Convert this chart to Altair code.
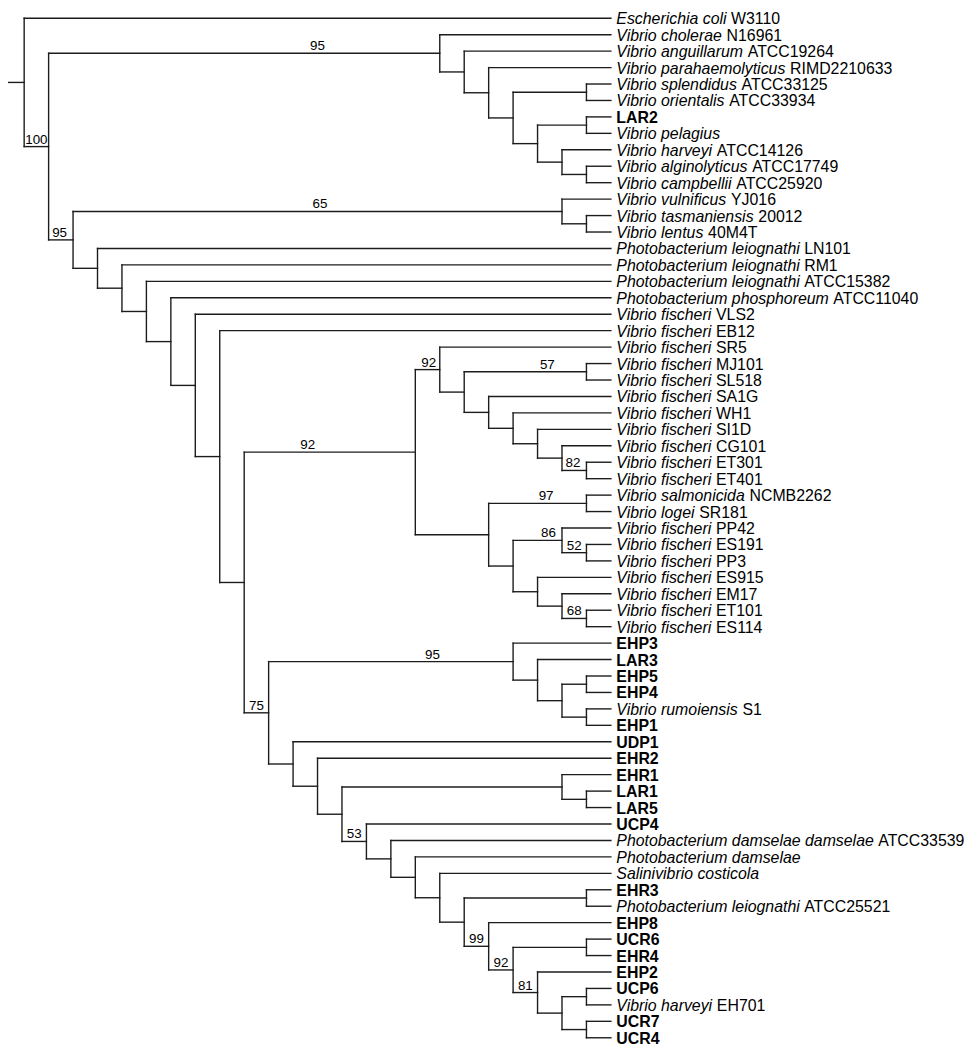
import altair as alt
import pandas as pd

# ---------------- data ----------------
LEAF_SPECIES = [
    "Escherichia coli", "Vibrio cholerae", "Vibrio anguillarum", "Vibrio parahaemolyticus",
    "Vibrio splendidus", "Vibrio orientalis", "", "Vibrio pelagius",
    "Vibrio harveyi", "Vibrio alginolyticus", "Vibrio campbellii",
    "Vibrio vulnificus", "Vibrio tasmaniensis", "Vibrio lentus",
    "Photobacterium leiognathi", "Photobacterium leiognathi", "Photobacterium leiognathi",
    "Photobacterium phosphoreum", "Vibrio fischeri", "Vibrio fischeri",
    "Vibrio fischeri", "Vibrio fischeri", "Vibrio fischeri", "Vibrio fischeri",
    "Vibrio fischeri", "Vibrio fischeri", "Vibrio fischeri", "Vibrio fischeri", "Vibrio fischeri",
    "Vibrio salmonicida", "Vibrio logei", "Vibrio fischeri", "Vibrio fischeri", "Vibrio fischeri",
    "Vibrio fischeri", "Vibrio fischeri", "Vibrio fischeri", "Vibrio fischeri",
    "", "", "", "", "Vibrio rumoiensis", "",
    "", "", "", "", "", "",
    "Photobacterium damselae damselae", "Photobacterium damselae", "Salinivibrio costicola",
    "", "Photobacterium leiognathi", "", "", "", "", "", "Vibrio harveyi", "", "",
]
LEAF_STRAIN = [
    "W3110", "N16961", "ATCC19264", "RIMD2210633",
    "ATCC33125", "ATCC33934", "LAR2", "",
    "ATCC14126", "ATCC17749", "ATCC25920",
    "YJ016", "20012", "40M4T",
    "LN101", "RM1", "ATCC15382",
    "ATCC11040", "VLS2", "EB12",
    "SR5", "MJ101", "SL518", "SA1G",
    "WH1", "SI1D", "CG101", "ET301", "ET401",
    "NCMB2262", "SR181", "PP42", "ES191", "PP3",
    "ES915", "EM17", "ET101", "ES114",
    "EHP3", "LAR3", "EHP5", "EHP4", "S1", "EHP1",
    "UDP1", "EHR2", "EHR1", "LAR1", "LAR5", "UCP4",
    "ATCC33539", "", "",
    "EHR3", "ATCC25521", "EHP8", "UCR6", "EHR4", "EHP2", "UCP6", "EH701", "UCR7", "UCR4",
]

# tree topology (leaf = index above, letters name supported nodes)
VIBRIO = "(1,(2,(3,((4,5),((6,7),(8,(9,10)))))))A"
VULNIFICUS = "(11,(12,13))B"
FISCHERI_UP = "(20,((21,22)C,(23,(24,(25,(26,(27,28)D))))))E"
FISCHERI_LO = "((29,30)F,((31,(32,33)G)H,(34,(35,(36,37)I))))"
EHP = "(38,(39,((40,41),(42,43))))K"
DAMSELAE = "(49,(50,(51,(52,((53,54),(55,((56,57),(58,((59,60),(61,62)))L)M)N)))))O"
LOWER = "(" + EHP + ",(44,(45,((46,(47,48))," + DAMSELAE + "))))P"
CORE = "((" + FISCHERI_UP + "," + FISCHERI_LO + ")J," + LOWER + ")"
BACKBONE = "(14,(15,(16,(17,(18,(19," + CORE + "))))))"
TREE = "(0,(" + VIBRIO + ",(" + VULNIFICUS + "," + BACKBONE + ")Q)R);"

BOOT_NODE = ["R", "Q", "A", "B", "J", "E", "C", "D", "F", "H", "G", "I", "P", "K", "O", "N", "M", "L"]
BOOT_VALUE = [100, 95, 95, 65, 92, 92, 57, 82, 97, 86, 52, 68, 75, 95, 53, 99, 92, 81]
BOOT_POS = [1.5, 2.45, 13.0, 13.1, 12.6, 17.55, 22.4, 23.45, 22.35, 22.45, 23.5, 23.5,
            10.5, 17.7, 14.5, 19.5, 20.5, 21.5]

N_LEVELS = 25
X_RANGE = [-8.35, 607.9]
Y_RANGE = [6, 1034]
FONT = "Liberation Sans"
LEAF_FS = 16

# ---------------- tree parsing & layout ----------------
def parse(s):
    pos = 0

    def read_name():
        nonlocal pos
        start = pos
        while pos < len(s) and s[pos] not in ",();":
            pos += 1
        return s[start:pos]

    def node():
        nonlocal pos
        if s[pos] == "(":
            pos += 1
            kids = [node()]
            while s[pos] == ",":
                pos += 1
                kids.append(node())
            pos += 1  # ')'
            return {"kids": kids, "name": read_name()}
        return {"leaf": int(read_name())}

    return node()


def layout(n):
    if "leaf" in n:
        n["h"] = 0
        n["y"] = n["leaf"]
    else:
        for k in n["kids"]:
            layout(k)
        n["h"] = 1 + max(k["h"] for k in n["kids"])
        n["y"] = (n["kids"][0]["y"] + n["kids"][-1]["y"]) / 2
    n["x"] = N_LEVELS - n["h"]


root = parse(TREE)
layout(root)

segs = [{"x": 0, "x2": root["x"], "y": root["y"], "y2": root["y"]}]
named = {}


def walk(n):
    if "leaf" in n:
        return
    if n.get("name"):
        named[n["name"]] = n
    segs.append({"x": n["x"], "x2": n["x"], "y": n["kids"][0]["y"], "y2": n["kids"][-1]["y"]})
    for k in n["kids"]:
        segs.append({"x": n["x"], "x2": k["x"], "y": k["y"], "y2": k["y"]})
        walk(k)


walk(root)
seg_df = pd.DataFrame(segs)

boot_df = pd.DataFrame({
    "x": BOOT_POS,
    "y": [named[k]["y"] for k in BOOT_NODE],
    "label": [str(v) for v in BOOT_VALUE],
})

# Arial / Liberation Sans advance widths (per 1000 em) for the italic names
W = dict(zip("abcdefghijklmnopqrstuvwxyz",
             [556, 556, 500, 556, 556, 278, 556, 556, 222, 222, 500, 222, 833,
              556, 556, 556, 556, 333, 500, 278, 556, 500, 722, 500, 500, 500]))
W.update({"E": 667, "P": 667, "S": 667, "V": 667, " ": 278})
PPL = (X_RANGE[1] - X_RANGE[0]) / N_LEVELS


def text_w(t):
    return sum(W.get(c, 556) for c in t) * LEAF_FS / 1000


sp_rows, st_rows, iso_rows = [], [], []
for i, (sp, st) in enumerate(zip(LEAF_SPECIES, LEAF_STRAIN)):
    if sp:
        sp_rows.append({"x": N_LEVELS, "y": i, "t": sp})
        if st:
            st_rows.append({"x": N_LEVELS + text_w(sp + " ") / PPL, "y": i, "t": st})
    else:
        iso_rows.append({"x": N_LEVELS, "y": i, "t": st})

xs = alt.Scale(domain=[0, N_LEVELS], range=X_RANGE, nice=False, zero=False)
ys = alt.Scale(domain=[0, len(LEAF_STRAIN) - 1], range=Y_RANGE, nice=False, zero=False)

lines = alt.Chart(seg_df).mark_rule(color="#1c1c1c", strokeWidth=1.4, strokeCap="square").encode(
    x=alt.X("x:Q", scale=xs, axis=None),
    x2="x2:Q",
    y=alt.Y("y:Q", scale=ys, axis=None),
    y2="y2:Q",
)

common = dict(align="left", baseline="middle", dx=5.5, dy=1, fontSize=LEAF_FS, font=FONT, color="black")

species = alt.Chart(pd.DataFrame(sp_rows)).mark_text(fontStyle="italic", **common).encode(
    x=alt.X("x:Q", scale=xs, axis=None), y=alt.Y("y:Q", scale=ys, axis=None), text="t:N")
strain = alt.Chart(pd.DataFrame(st_rows)).mark_text(**common).encode(
    x=alt.X("x:Q", scale=xs, axis=None), y=alt.Y("y:Q", scale=ys, axis=None), text="t:N")
isolates = alt.Chart(pd.DataFrame(iso_rows)).mark_text(fontWeight="bold", **common).encode(
    x=alt.X("x:Q", scale=xs, axis=None), y=alt.Y("y:Q", scale=ys, axis=None), text="t:N")

boot = alt.Chart(boot_df).mark_text(align="center", baseline="alphabetic", dy=-3, fontSize=13.5,
                                    font=FONT, color="black").encode(
    x=alt.X("x:Q", scale=xs, axis=None), y=alt.Y("y:Q", scale=ys, axis=None), text="label:N")

chart = alt.layer(lines, species, strain, isolates, boot).properties(
    width=971, height=1042,
    autosize=alt.AutoSizeParams(type="none"),
    padding=0,
).configure_view(stroke=None)

chart.save("out.html", embed_options={"renderer": "svg", "actions": False})
